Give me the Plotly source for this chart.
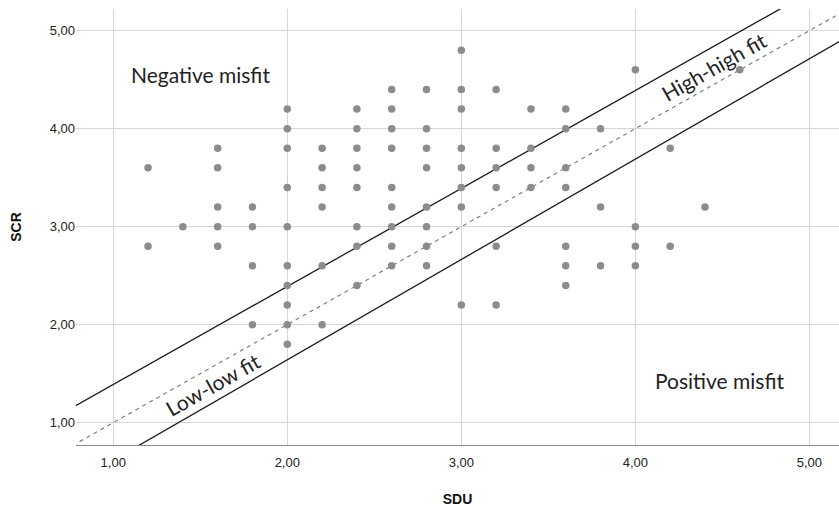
import plotly.graph_objects as go

# ---- data ----
sdu = [1.2, 1.2,
       1.4,
       1.6, 1.6, 1.6, 1.6, 1.6,
       1.8, 1.8, 1.8, 1.8,
       2.0, 2.0, 2.0, 2.0, 2.0, 2.0, 2.0, 2.0, 2.0, 2.0,
       2.2, 2.2, 2.2, 2.2, 2.2, 2.2,
       2.4, 2.4, 2.4, 2.4, 2.4, 2.4, 2.4, 2.4,
       2.6, 2.6, 2.6, 2.6, 2.6, 2.6, 2.6, 2.6, 2.6,
       2.8, 2.8, 2.8, 2.8, 2.8, 2.8, 2.8, 2.8,
       3.0, 3.0, 3.0, 3.0, 3.0, 3.0, 3.0, 3.0,
       3.2, 3.2, 3.2, 3.2, 3.2, 3.2,
       3.4, 3.4, 3.4, 3.4,
       3.6, 3.6, 3.6, 3.6, 3.6, 3.6, 3.6,
       3.8, 3.8, 3.8,
       4.0, 4.0, 4.0, 4.0,
       4.2, 4.2,
       4.4,
       4.6]
scr = [3.6, 2.8,
       3.0,
       3.8, 3.6, 3.2, 3.0, 2.8,
       3.2, 3.0, 2.6, 2.0,
       4.2, 4.0, 3.8, 3.4, 3.0, 2.6, 2.4, 2.2, 2.0, 1.8,
       3.8, 3.6, 3.4, 3.2, 2.6, 2.0,
       4.2, 4.0, 3.8, 3.6, 3.4, 3.0, 2.8, 2.4,
       4.4, 4.2, 4.0, 3.8, 3.4, 3.2, 3.0, 2.8, 2.6,
       4.4, 4.0, 3.8, 3.6, 3.2, 3.0, 2.8, 2.6,
       4.8, 4.4, 4.2, 3.8, 3.6, 3.4, 3.2, 2.2,
       4.4, 3.8, 3.6, 3.4, 2.8, 2.2,
       4.2, 3.8, 3.6, 3.4,
       4.2, 4.0, 3.6, 3.4, 2.8, 2.6, 2.4,
       4.0, 3.2, 2.6,
       4.6, 3.0, 2.8, 2.6,
       3.8, 2.8,
       3.2,
       4.6]

# reference lines: (slope, intercept)
line_names = ["upper", "identity", "lower"]
line_slopes = [1.0, 1.0, 1.024]
line_intercepts = [0.39, 0.0, -0.407]

tick_vals = [1, 2, 3, 4, 5]
tick_text = ["1,00", "2,00", "3,00", "4,00", "5,00"]

x_range = [0.786, 5.17]
y_range = [0.772, 5.221]

region_labels = ["Negative misfit", "Positive misfit", "High-high fit", "Low-low fit"]

# ---- figure ----
fig = go.Figure()

for name, m, b in zip(line_names, line_slopes, line_intercepts):
    xs = [x_range[0] - 0.5, x_range[1] + 0.5]
    ys = [m * v + b for v in xs]
    if name == "identity":
        ln = dict(color="#7f7f7f", width=1.2, dash="4px,4px")
    else:
        ln = dict(color="#1a1a1a", width=1.3)
    fig.add_trace(go.Scatter(x=xs, y=ys, mode="lines", line=ln,
                             hoverinfo="skip", showlegend=False))

fig.add_trace(go.Scatter(
    x=sdu, y=scr, mode="markers",
    marker=dict(color="#8c8c8e", size=7.5, line=dict(width=0)),
    showlegend=False))

label_font = dict(family="Lato, Carlito, 'Noto Sans', sans-serif", size=21, color="#222222")
fig.add_annotation(x=1.504, y=4.548, text=region_labels[0], showarrow=False, font=label_font)
fig.add_annotation(x=4.481, y=1.426, text=region_labels[1], showarrow=False, font=label_font)
fig.add_annotation(x=4.451, y=4.63, text=region_labels[2], showarrow=False, font=label_font,
                   textangle=-29.4)
fig.add_annotation(x=1.571, y=1.385, text=region_labels[3], showarrow=False, font=label_font,
                   textangle=-29.4)

axis_font = dict(family="Liberation Sans, Arial, sans-serif", size=13, color="#222222")
title_font = dict(family="Liberation Sans, Arial, sans-serif", size=14, color="#111111")

fig.update_xaxes(range=x_range, tickvals=tick_vals, ticktext=tick_text,
                 showgrid=True, gridcolor="#d6d6d6", gridwidth=1,
                 zeroline=False, showline=True, linecolor="#8a8a8a", linewidth=1,
                 ticks="", tickfont=axis_font, automargin=False, ticklabelstandoff=5,
                 title=dict(text="<b>SDU</b>", font=title_font, standoff=25))
fig.update_yaxes(range=y_range, tickvals=tick_vals, ticktext=tick_text,
                 showgrid=True, gridcolor="#d6d6d6", gridwidth=1,
                 zeroline=False, showline=False,
                 ticks="", tickfont=axis_font, automargin=False,
                 title=dict(text="<b>SCR</b>", font=title_font, standoff=24))

fig.update_layout(width=839, height=508,
                  margin=dict(l=76, r=0, t=9, b=63),
                  plot_bgcolor="white", paper_bgcolor="white",
                  showlegend=False)

# remove the default page margin so the figure sits at the window origin
fig.write_html("out.html", config={"displayModeBar": False},
               post_script="document.body.style.margin='0';")
